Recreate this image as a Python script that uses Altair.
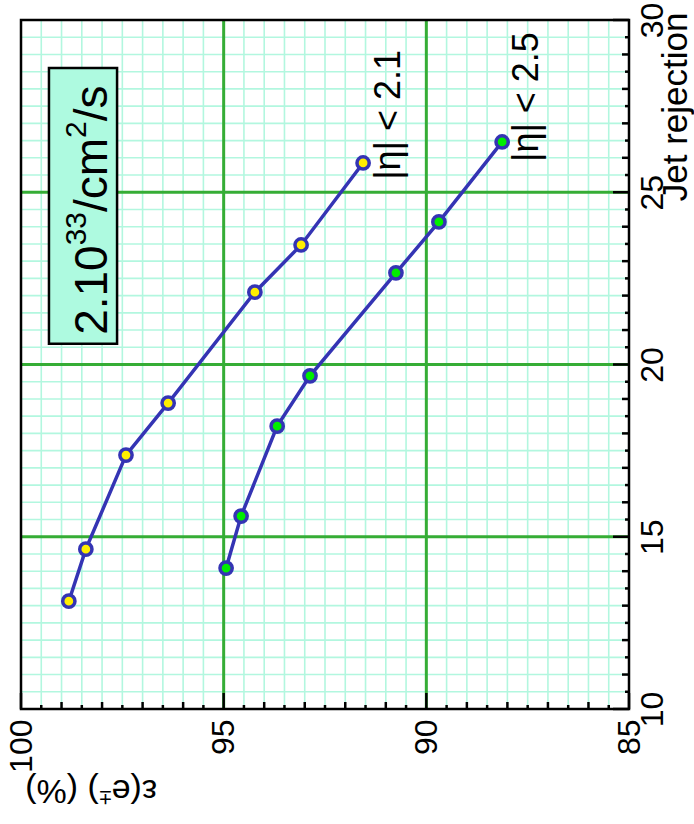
import altair as alt
import pandas as pd

FONT = "Liberation Sans"

# |eta| < 2.1 : electron efficiency (%) and jet rejection
eff_21 = [98.82, 98.40, 97.41, 96.37, 94.23, 93.09, 91.56]
rej_21 = [13.13, 14.64, 17.37, 18.88, 22.10, 23.47, 25.85]
# |eta| < 2.5
eff_25 = [94.94, 94.57, 93.68, 92.87, 90.75, 89.69, 88.13]
rej_25 = [14.09, 15.60, 18.21, 19.67, 22.66, 24.14, 26.46]

series_names = ["|η| < 2.1", "|η| < 2.5"]
series_fill = ["#ffee00", "#00ee00"]

x_ticks = [100, 95, 90, 85]
y_ticks = [10, 15, 20, 25, 30]
x_range = [85, 100]
y_range = [10, 30]

# curve labels, anchored at the start of the text (data coordinates)
label_eff = [90.65, 87.24]
label_rej = [25.36, 25.88]

# luminosity box and its text anchor (data coordinates)
box_eff = [99.31, 97.63]
box_rej = [20.6, 28.61]
lumi_eff = [97.88]
lumi_rej = [20.86]
lumi_pieces = [("2.10", 46, 0), ("33", 30, 21), ("/cm", 46, 0), ("2", 30, 21), ("/s", 46, 0)]

# x-axis title pieces (drawn upside down)
xtitle_pieces = [("ε(e", 34, 0), ("±", 22, 11), (") (%)", 34, 0)]

W, H = 608, 689
BLUE = "#3434b4"
MINT = "#b2f7df"
GREEN = "#35ad35"

# advance widths of Liberation Sans glyphs (em units)
ADV = {d: 0.556 for d in "0123456789"}
ADV.update({".": 0.278, "/": 0.278, "c": 0.5, "m": 0.833, "s": 0.5, "(": 0.333,
            ")": 0.333, " ": 0.278, "%": 0.889, "e": 0.556, "ε": 0.446, "±": 0.584})


def text_width(s, size):
    return sum(ADV.get(ch, 0.556) for ch in s) * size


xs = alt.Scale(domain=x_range, reverse=True, nice=False, zero=False)
ys = alt.Scale(domain=y_range, nice=False, zero=False)

x_axis = alt.Axis(orient="bottom", values=x_ticks, format="d", title="", grid=False,
                  ticks=False, domain=False, labelAngle=270, labelAlign="right",
                  labelBaseline="middle", labelPadding=10, labelFontSize=32,
                  labelFont=FONT, labelColor="black")
y_axis = alt.Axis(orient="right", values=y_ticks, format="d", title="Jet rejection",
                  grid=False, ticks=False, domain=False, labelAngle=270,
                  labelAlign="center", labelBaseline="top", labelPadding=8,
                  labelFontSize=32, labelFont=FONT, labelColor="black",
                  titleAngle=270, titleAlign="right", titleBaseline="alphabetic",
                  titleX=57, titleY=-8, titleFontSize=35, titleFont=FONT,
                  titleFontWeight="normal", titleColor="black")


def X(field):
    return alt.X(f"{field}:Q", scale=xs, axis=x_axis)


def Y(field):
    return alt.Y(f"{field}:Q", scale=ys, axis=y_axis)


layers = []

# fine grid every 0.5 unit
minor_x = pd.DataFrame({"gx": [x_range[0] + 0.5 * i for i in range(31)]})
minor_y = pd.DataFrame({"gy": [y_range[0] + 0.5 * i for i in range(41)]})
layers.append(alt.Chart(minor_x).mark_rule(color=MINT, strokeWidth=1.6).encode(x=X("gx")))
layers.append(alt.Chart(minor_y).mark_rule(color=MINT, strokeWidth=1.6).encode(y=Y("gy")))

# major grid at the inner labelled values
major_x = pd.DataFrame({"gx": x_ticks[1:-1]})
major_y = pd.DataFrame({"gy": y_ticks[1:-1]})
layers.append(alt.Chart(major_x).mark_rule(color=GREEN, strokeWidth=3).encode(x=X("gx")))
layers.append(alt.Chart(major_y).mark_rule(color=GREEN, strokeWidth=3).encode(y=Y("gy")))

# luminosity box
box = pd.DataFrame({"x0": [box_eff[0]], "x1": [box_eff[1]], "y0": [box_rej[0]], "y1": [box_rej[1]]})
layers.append(alt.Chart(box).mark_rect(fill="#aefae0", stroke="black", strokeWidth=2.5).encode(
    x=X("x0"), x2="x1:Q", y=Y("y0"), y2="y1:Q"))

# curves
curves = pd.DataFrame({
    "eff": eff_21 + eff_25,
    "rej": rej_21 + rej_25,
    "series": [series_names[0]] * len(eff_21) + [series_names[1]] * len(eff_25),
})
layers.append(alt.Chart(curves).mark_line(color=BLUE, strokeWidth=3.5).encode(
    x=X("eff"), y=Y("rej"), detail="series:N"))
layers.append(alt.Chart(curves).mark_circle(size=150, stroke=BLUE, strokeWidth=3.5, opacity=1).encode(
    x=X("eff"), y=Y("rej"),
    fill=alt.Fill("series:N", scale=alt.Scale(domain=series_names, range=series_fill), legend=None)))

# curve labels
labels = pd.DataFrame({"eff": label_eff, "rej": label_rej, "label": series_names})
layers.append(alt.Chart(labels).mark_text(angle=270, align="left", baseline="alphabetic",
                                           fontSize=36, font=FONT, color="black").encode(
    x=X("eff"), y=Y("rej"), text="label:N"))

# luminosity text with superscripts
anchor = pd.DataFrame({"eff": lumi_eff, "rej": lumi_rej})
pos = 0.0
for txt, size, rise in lumi_pieces:
    layers.append(alt.Chart(anchor).mark_text(
        text=txt, angle=270, align="left", baseline="alphabetic", fontSize=size,
        font=FONT, color="black", dx=pos, dy=-rise).encode(x=X("eff"), y=Y("rej")))
    pos += text_width(txt, size)

# x-axis title, upside down, below the axis
one = pd.DataFrame({"k": [0]})
pos = 0.0
for txt, size, rise in xtitle_pieces:
    layers.append(alt.Chart(one).mark_text(
        text=txt, angle=180, align="left", baseline="alphabetic", fontSize=size,
        font=FONT, color="black", dx=pos, dy=-rise).encode(x=alt.value(136), y=alt.value(760)))
    pos += text_width(txt, size)

# inward ticks on the bottom and right axes
half = 0.5
bx_major = pd.DataFrame({"t": x_ticks})
bx_unit = pd.DataFrame({"t": [v for v in range(85, 101) if v % 5 != 0]})
bx_half = pd.DataFrame({"t": [v + half for v in range(85, 100)]})
for df, ln in [(bx_major, 16), (bx_unit, 7), (bx_half, 4)]:
    layers.append(alt.Chart(df).mark_rule(color="black", strokeWidth=2.5).encode(
        x=X("t"), y=alt.value(H), y2=alt.value(H - ln)))
ry_major = pd.DataFrame({"t": y_ticks})
ry_unit = pd.DataFrame({"t": [v for v in range(10, 31) if v % 5 != 0]})
ry_half = pd.DataFrame({"t": [v + half for v in range(10, 30)]})
for df, ln in [(ry_major, 16), (ry_unit, 7), (ry_half, 4)]:
    layers.append(alt.Chart(df).mark_rule(color="black", strokeWidth=2.5).encode(
        y=Y("t"), x=alt.value(W), x2=alt.value(W - ln)))

# frame
layers.append(alt.Chart(one).mark_rect(fill="transparent", stroke="black", strokeWidth=2.5).encode(
    x=alt.value(0), x2=alt.value(W), y=alt.value(0), y2=alt.value(H)))

chart = alt.layer(*layers).properties(
    width=W, height=H,
    autosize=alt.AutoSizeParams(type="none"),
    padding={"left": 21, "top": 20, "right": 65, "bottom": 115},
    background="white",
).configure_view(stroke=None)

chart.save("out.html", embed_options={"renderer": "svg", "actions": False})
